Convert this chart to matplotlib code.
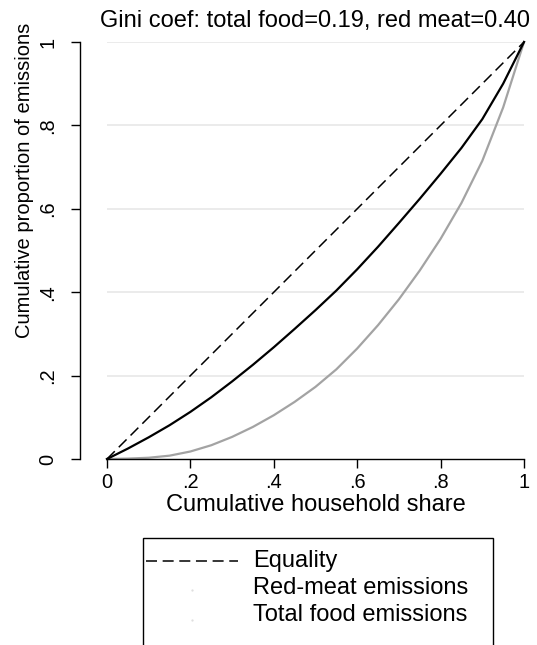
#Lorenz curves of household food emissions (Stata-like look)

import numpy as np
import matplotlib
matplotlib.use('Agg')
import matplotlib.pyplot as plt
from matplotlib.lines import Line2D
from matplotlib.patches import Rectangle

plt.rcParams['font.family'] = ['Liberation Sans', 'DejaVu Sans']
plt.rcParams['font.size'] = 17

#Cumulative household share and the two curves
share = [0, .05, .1, .15, .2, .25, .3, .35, .4, .45, .5,
         .55, .6, .65, .7, .75, .8, .85, .9, .95, 1]
total_food = [0, .025, .052, .081, .113, .148, .186, .226, .268, .312, .357,
              .404, .455, .509, .566, .624, .684, .746, .815, .900, 1]
red_meat = [0, .001, .003, .008, .018, .033, .053, .077, .105, .137, .173,
            .215, .265, .321, .383, .452, .528, .614, .715, .843, 1]
equality = [0, 1]
ticks = [0, .2, .4, .6, .8, 1]
tick_labels = ['0', '.2', '.4', '.6', '.8', '1']
legend_labels = ['Equality', 'Red-meat emissions', 'Total food emissions']

W, H = 537, 645
fig = plt.figure(figsize=(W / 100, H / 100), dpi=100)
ax = fig.add_axes([107 / W, 1 - 459 / H, 417 / W, 417 / H])

#spines first: moving a spine resets the ticks
ax.spines['top'].set_visible(False)
ax.spines['right'].set_visible(False)
ax.spines['left'].set_position(('outward', 19.4))
for s in ['left', 'bottom']:
    ax.spines[s].set_linewidth(1.0)

#Grid
for y in ticks[1:]:
    ax.axhline(y, color='#e6e6e6', lw=1.1, zorder=0)

ax.plot(equality, equality, color='black', lw=1.1, dashes=(7.2, 3.7), clip_on=False)
ax.plot(share, red_meat, color='#a3a3a3', lw=1.6, clip_on=False)
ax.plot(share, total_food, color='black', lw=1.6, clip_on=False)

ax.set_xlim(0, 1)
ax.set_ylim(0, 1)
ax.set_xticks(ticks)
ax.set_xticklabels(tick_labels)
ax.set_yticks(ticks)
ax.set_yticklabels(tick_labels)
ax.tick_params(axis='y', length=6.5, width=1.0, pad=9.7, labelsize=14.4, labelrotation=90)
ax.tick_params(axis='x', length=6.5, width=1.0, pad=3.5, labelsize=14.4)
for lab in ax.get_yticklabels():
    lab.set_va('center')

ax.set_xlabel('Cumulative household share', labelpad=1.5)
ax.set_ylabel('Cumulative proportion of emissions', fontsize=14.5)
ax.yaxis.set_label_coords(-0.176, 0.667)
ax.set_title('Gini coef: total food=0.19, red meat=0.40', fontsize=17, pad=11)

#Legend box drawn by hand (Stata style)
def fx(x):
    return x / W

def fy(y):
    return 1 - y / H

fig.patches.append(Rectangle((fx(143), fy(660)), fx(493) - fx(143), fy(538) - fy(660),
                             transform=fig.transFigure, facecolor='white',
                             edgecolor='black', lw=1.0))
fig.lines.append(Line2D([fx(146), fx(238)], [fy(561), fy(561)], transform=fig.transFigure,
                        color='black', lw=1.1, dashes=(7.2, 3.7)))
for yy in [590, 620]:
    fig.lines.append(Line2D([fx(192)], [fy(yy)], transform=fig.transFigure, ls='none',
                            marker='.', ms=1.2, color='#dddddd'))
for lab, yb in zip(legend_labels, [567, 594, 621]):
    fig.text(fx(253), fy(yb), lab, ha='left', va='baseline', fontsize=17)

plt.savefig('out.png', dpi=100)
